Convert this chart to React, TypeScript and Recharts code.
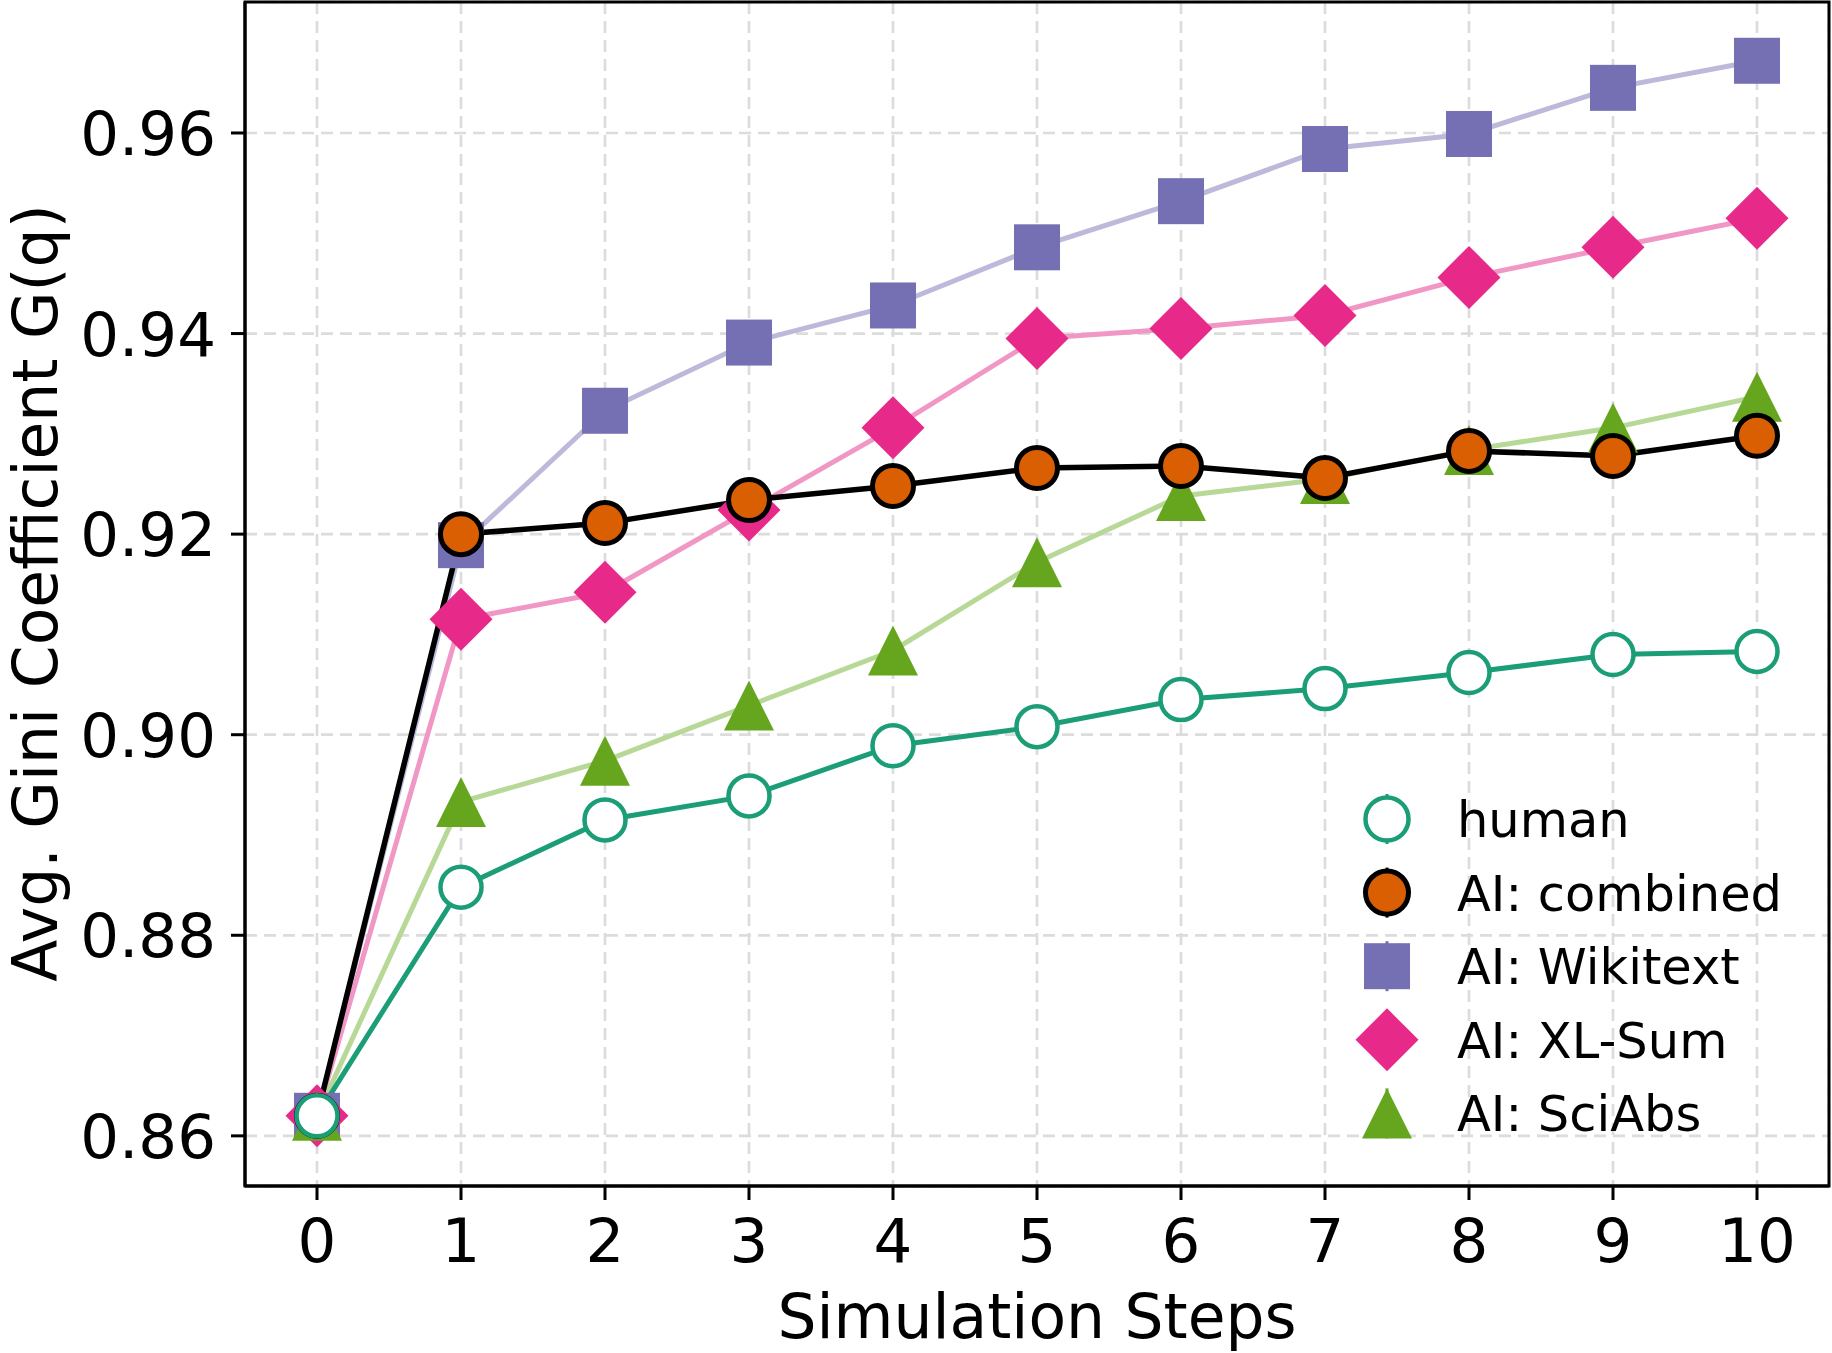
import React from "react";
import { LineChart, Line, XAxis, YAxis, CartesianGrid, ReferenceArea, Label } from "recharts";

const steps = [0, 1, 2, 3, 4, 5, 6, 7, 8, 9, 10];
const human = [0.862, 0.8848, 0.8915, 0.8939, 0.8989, 0.9008, 0.9035, 0.9046, 0.9062, 0.908, 0.9083];
const combined = [0.862, 0.92, 0.9211, 0.9234, 0.9248, 0.9266, 0.9268, 0.9256, 0.9283, 0.9278, 0.9298];
const wikitext = [0.862, 0.9189, 0.9323, 0.9391, 0.9428, 0.9486, 0.9532, 0.9584, 0.9599, 0.9645, 0.9672];
const xlsum = [0.862, 0.9115, 0.9142, 0.9224, 0.9306, 0.9395, 0.9405, 0.9418, 0.9456, 0.9486, 0.9515];
const sciabs = [0.862, 0.8933, 0.8974, 0.9029, 0.9084, 0.9172, 0.9238, 0.9255, 0.9284, 0.9306, 0.9337];
const yTicks = [0.86, 0.88, 0.9, 0.92, 0.94, 0.96];

const data = steps.map((s, i) => ({
  step: s,
  human: human[i],
  combined: combined[i],
  wikitext: wikitext[i],
  xlsum: xlsum[i],
  sciabs: sciabs[i],
}));

const FONT = "DejaVu Sans";

type Shape = "circle" | "square" | "diamond" | "triangle";

function Marker({ shape, cx, cy, fill, stroke, sw, scale = 1 }: any) {
  if (shape === "circle") return <circle cx={cx} cy={cy} r={20.5 * scale} fill={fill} stroke={stroke} strokeWidth={sw} />;
  if (shape === "square") {
    const h = 23 * scale;
    return <rect x={cx - h} y={cy - h} width={2 * h} height={2 * h} fill={fill} />;
  }
  if (shape === "diamond") {
    const h = 31.5 * scale;
    return <polygon points={`${cx},${cy - h} ${cx + h},${cy} ${cx},${cy + h} ${cx - h},${cy}`} fill={fill} />;
  }
  const h = 25 * scale;
  return <polygon points={`${cx},${cy - h} ${cx + h},${cy + h} ${cx - h},${cy + h}`} fill={fill} />;
}

const dot = (shape: Shape, fill: string, stroke = "none", sw = 0) => (p: any) =>
  <Marker key={`${shape}-${p.index}`} shape={shape} cx={p.cx} cy={p.cy} fill={fill} stroke={stroke} sw={sw} />;

// drawn back to front
const series = [
  { key: "wikitext", name: "AI: Wikitext", line: "#bcb9da", w: 5, shape: "square" as Shape, fill: "#7570b3", stroke: "none", sw: 0 },
  { key: "xlsum", name: "AI: XL-Sum", line: "#f197c5", w: 5, shape: "diamond" as Shape, fill: "#e7298a", stroke: "none", sw: 0 },
  { key: "sciabs", name: "AI: SciAbs", line: "#b7d897", w: 5, shape: "triangle" as Shape, fill: "#66a61e", stroke: "none", sw: 0 },
  { key: "combined", name: "AI: combined", line: "#000000", w: 5.5, shape: "circle" as Shape, fill: "#d95f02", stroke: "#000000", sw: 5 },
  { key: "human", name: "human", line: "#1b9e77", w: 5, shape: "circle" as Shape, fill: "#ffffff", stroke: "#1b9e77", sw: 4.5 },
];
const legendOrder = ["human", "combined", "wikitext", "xlsum", "sciabs"];

function LegendBox() {
  return (
    <svg width={480} height={380} style={{ position: "absolute", left: 1340, top: 789 }}>
      {legendOrder.map((k, i) => {
        const s = series.find(d => d.key === k)!;
        const cy = 30 + i * 73.6;
        return (
          <g key={k}>
            <line x1={47} x2={47} y1={cy - 25} y2={cy + 25} stroke={s.stroke !== "none" ? s.stroke : s.fill} strokeWidth={3} />
            <Marker shape={s.shape} cx={47} cy={cy} fill={s.fill} stroke={s.stroke} sw={s.sw} scale={s.shape === "circle" ? 1.05 : 1.0} />
            <text x={117} y={cy + 18} fontSize={49.5} fontFamily={FONT} fill="#000">{s.name}</text>
          </g>
        );
      })}
    </svg>
  );
}

export default function App() {
  return (
    <div style={{ position: "absolute", left: 0, top: 0, width: 1832, height: 1353, background: "#fff" }}>
      <LineChart width={1832} height={1353} data={data} margin={{ top: 2, right: 3, bottom: 0, left: 0 }}>
        <CartesianGrid stroke="#dcdcdc" strokeWidth={2.7} strokeDasharray="12 7" />
        <XAxis
          dataKey="step"
          type="number"
          domain={[-0.5, 10.5]}
          ticks={steps}
          height={167}
          axisLine={{ stroke: "#000", strokeWidth: 3 }}
          tickLine={{ stroke: "#000", strokeWidth: 3 }}
          tickSize={14}
          tick={(p: any) => (
            <text x={p.x} y={1262} textAnchor="middle" fontSize={61} fontFamily={FONT} fill="#000">{p.payload.value}</text>
          )}
        >
          <Label content={() => (
            <text x={1037} y={1338} textAnchor="middle" fontSize={61.5} fontFamily={FONT} fill="#000">Simulation Steps</text>
          )} />
        </XAxis>
        <YAxis
          type="number"
          domain={[0.855, 0.97306]}
          ticks={yTicks}
          width={245}
          allowDataOverflow
          axisLine={{ stroke: "#000", strokeWidth: 3 }}
          tickLine={{ stroke: "#000", strokeWidth: 3 }}
          tickSize={14}
          tick={(p: any) => (
            <text x={216} y={p.y + 22} textAnchor="end" fontSize={61} fontFamily={FONT} fill="#000">{Number(p.payload.value).toFixed(2)}</text>
          )}
        >
          <Label content={() => (
            <text x={57} y={593} transform="rotate(-90 57 593)" textAnchor="middle" fontSize={61.5} fontFamily={FONT} fill="#000">Avg. Gini Coefficient G(q)</text>
          )} />
        </YAxis>
        <ReferenceArea x1={-0.5} x2={10.5} y1={0.855} y2={0.97306} fill="none" stroke="#000" strokeWidth={3} ifOverflow="visible" />
        {series.map(s => (
          <Line
            key={s.key}
            dataKey={s.key}
            name={s.name}
            stroke={s.line}
            strokeWidth={s.w}
            dot={dot(s.shape, s.fill, s.stroke, s.sw)}
            activeDot={false}
            isAnimationActive={false}
          />
        ))}
      </LineChart>
      <LegendBox />
    </div>
  );
}
